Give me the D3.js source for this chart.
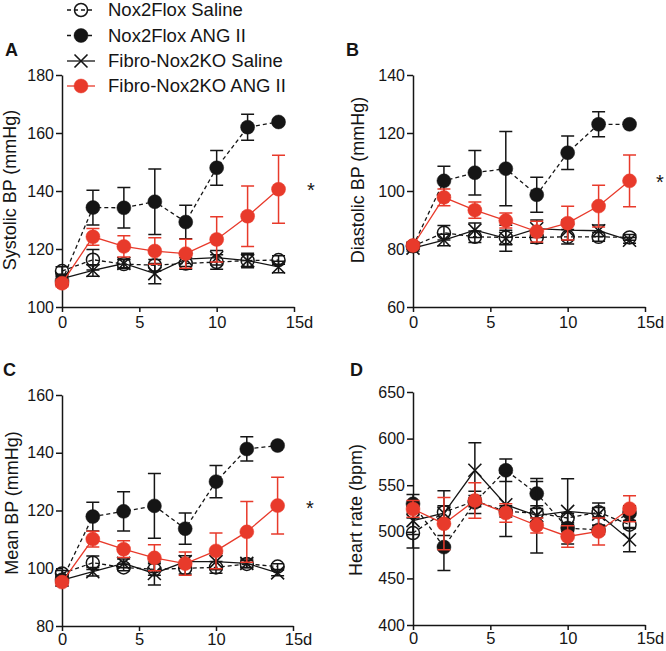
<!DOCTYPE html>
<html><head><meta charset="utf-8">
<script src="https://cdn.jsdelivr.net/npm/d3@7"></script>
<style>
body{margin:0;background:#fff}
svg{display:block}
text{font-family:"Liberation Sans",Arial,Helvetica,sans-serif;fill:#151515}
</style>
</head><body>
<svg id="c" width="666" height="651"></svg>
<script>
// ---------- DATA ----------
const days = [0, 2, 4, 6, 8, 10, 12, 14];
const groups = ["Nox2Flox Saline", "Nox2Flox ANG II", "Fibro-Nox2KO Saline", "Fibro-Nox2KO ANG II"];
const xTicks = [0, 5, 10, 15];

// A: Systolic BP
const sbpFloxSaline    = [112.4, 116.3, 114.8, 114.4, 115.0, 115.5, 116.0, 116.2];
const sbpFloxSalineErr = [1.5, 3.5, 1.5, 2.0, 2.0, 2.5, 2.0, 1.5];
const sbpFloxAng       = [109.0, 134.3, 134.2, 136.3, 129.3, 148.0, 162.0, 163.8];
const sbpFloxAngErr    = [1.5, 6.0, 7.0, 11.3, 5.8, 6.0, 4.5, 0.8];
const sbpKoSaline      = [109.8, 112.6, 115.0, 111.5, 116.5, 117.0, 116.0, 113.8];
const sbpKoSalineErr   = [1.5, 2.0, 1.5, 3.5, 2.5, 2.5, 2.5, 2.0];
const sbpKoAng         = [108.2, 124.2, 120.9, 119.3, 118.4, 123.3, 131.3, 140.6];
const sbpKoAngErr      = [1.2, 2.9, 3.7, 4.6, 5.0, 7.8, 10.4, 11.7];
const sbpTicks = [100, 120, 140, 160, 180];

// B: Diastolic BP
const dbpFloxSaline    = [81.0, 85.6, 84.2, 84.0, 84.0, 84.2, 84.2, 84.0];
const dbpFloxSalineErr = [1.0, 2.5, 2.0, 2.5, 2.0, 2.5, 1.5, 1.0];
const dbpFloxAng       = [81.0, 103.5, 106.3, 107.7, 98.7, 113.2, 123.0, 123.0];
const dbpFloxAngErr    = [1.0, 5.0, 7.7, 12.8, 6.0, 5.8, 4.3, 0.5];
const dbpKoSaline      = [80.3, 83.1, 86.5, 83.7, 87.0, 86.5, 86.3, 83.0];
const dbpKoSalineErr   = [1.0, 2.0, 2.5, 4.5, 3.0, 3.5, 2.0, 1.0];
const dbpKoAng         = [81.2, 97.8, 93.4, 89.8, 86.0, 88.9, 94.8, 103.5];
const dbpKoAngErr      = [1.0, 2.9, 2.8, 2.6, 3.6, 5.8, 7.2, 8.9];
const dbpTicks = [60, 80, 100, 120, 140];

// C: Mean BP
const mbpFloxSaline    = [98.2, 101.9, 100.3, 99.6, 100.0, 100.3, 101.5, 100.6];
const mbpFloxSalineErr = [1.0, 2.3, 1.2, 2.0, 2.0, 2.0, 1.2, 1.0];
const mbpFloxAng       = [96.0, 117.9, 119.7, 121.6, 113.7, 130.0, 141.3, 142.5];
const mbpFloxAngErr    = [1.0, 5.0, 6.8, 11.2, 5.4, 5.6, 4.2, 0.6];
const mbpKoSaline      = [95.9, 98.8, 101.7, 98.2, 102.3, 102.3, 101.7, 98.4];
const mbpKoSalineErr   = [1.0, 1.5, 1.5, 4.0, 2.0, 2.8, 1.5, 1.0];
const mbpKoAng         = [95.2, 110.1, 106.6, 103.6, 101.6, 106.0, 112.6, 121.7];
const mbpKoAngErr      = [1.0, 2.7, 2.9, 4.5, 4.0, 6.2, 10.5, 9.8];
const mbpTicks = [80, 100, 120, 140, 160];

// D: Heart rate
const hrFloxSaline     = [498.7, 521.0, 533.0, 522.0, 520.0, 514.8, 521.0, 507.6];
const hrFloxSalineErr  = [16, 7, 6, 6, 5, 5, 5, 4];
const hrFloxAng        = [530.0, 483.6, 531.6, 566.0, 541.0, 504.0, 502.0, 520.0];
const hrFloxAngErr     = [10, 25, 12, 12, 13, 4, 5, 8];
const hrKoSaline       = [512.0, 520.0, 566.0, 529.0, 517.3, 521.9, 519.0, 491.5];
const hrKoSalineErr    = [15, 24, 29.5, 34, 40, 35, 12, 13];
const hrKoAng          = [524.5, 508.7, 533.5, 520.2, 506.8, 495.0, 500.4, 524.8];
const hrKoAngErr       = [9, 28, 19, 10, 8, 11.5, 14.5, 14];
const hrTicks = [400, 450, 500, 550, 600, 650];

// ---------- STYLE ----------
const RED = "#e83a2b";
const BLK = "#151515";
const styles = [
  {marker: "open",   color: BLK, dash: "4,3"},
  {marker: "filled", color: BLK, dash: "4,3"},
  {marker: "cross",  color: BLK, dash: null},
  {marker: "filled", color: RED, dash: null}
];

const panels = [
  {letter: "A", lx: 5, ly: 56, title: "Systolic BP (mmHg)", tx: 16, ty: 190,
   dom: [100, 180], ticks: sbpTicks, xr: [62, 294], yr: [307, 75], star: [311, 197], pad: 4,
   means: [sbpFloxSaline, sbpFloxAng, sbpKoSaline, sbpKoAng],
   errs: [sbpFloxSalineErr, sbpFloxAngErr, sbpKoSalineErr, sbpKoAngErr]},
  {letter: "B", lx: 346, ly: 56, title: "Diastolic BP (mmHg)", tx: 364, ty: 180,
   dom: [60, 140], ticks: dbpTicks, xr: [413, 645], yr: [307, 75], star: [660, 189], pad: 4,
   means: [dbpFloxSaline, dbpFloxAng, dbpKoSaline, dbpKoAng],
   errs: [dbpFloxSalineErr, dbpFloxAngErr, dbpKoSalineErr, dbpKoAngErr]},
  {letter: "C", lx: 3, ly: 376, title: "Mean BP (mmHg)", tx: 18, ty: 503,
   dom: [80, 160], ticks: mbpTicks, xr: [62, 293], yr: [626, 395], star: [310, 515], pad: 2,
   means: [mbpFloxSaline, mbpFloxAng, mbpKoSaline, mbpKoAng],
   errs: [mbpFloxSalineErr, mbpFloxAngErr, mbpKoSalineErr, mbpKoAngErr]},
  {letter: "D", lx: 350, ly: 376, title: "Heart rate (bpm)", tx: 362, ty: 510,
   dom: [400, 650], ticks: hrTicks, xr: [413, 645], yr: [625, 392], star: null, pad: 2,
   means: [hrFloxSaline, hrFloxAng, hrKoSaline, hrKoAng],
   errs: [hrFloxSalineErr, hrFloxAngErr, hrKoSalineErr, hrKoAngErr]}
];

const svg = d3.select("#c");
const R = 7, CAP = 6.5, XS = 6.5;

function drawMarker(g, st, cx, cy) {
  if (st.marker === "cross") {
    g.append("path")
      .attr("d", `M${cx - XS},${cy - XS}L${cx + XS},${cy + XS}M${cx - XS},${cy + XS}L${cx + XS},${cy - XS}`)
      .attr("stroke", st.color).attr("stroke-width", 1.6).attr("fill", "none");
  } else {
    g.append("circle").attr("cx", cx).attr("cy", cy).attr("r", st.marker === "open" ? R - 0.5 : R)
      .attr("fill", st.marker === "open" ? "none" : st.color)
      .attr("stroke", st.color).attr("stroke-width", st.marker === "open" ? 1.5 : 0.5);
  }
}

panels.forEach(p => {
  const x = d3.scaleLinear().domain([0, 15]).range(p.xr);
  const y = d3.scaleLinear().domain(p.dom).range(p.yr);
  const g = svg.append("g");

  // axes
  const ay = g.append("g").attr("transform", `translate(${p.xr[0]},0)`)
    .call(d3.axisLeft(y).tickValues(p.ticks).tickSize(6).tickSizeOuter(0).tickPadding(2));
  const ax = g.append("g").attr("transform", `translate(0,${p.yr[0]})`)
    .call(d3.axisBottom(x).tickValues(xTicks).tickSize(5).tickSizeOuter(0).tickPadding(p.pad)
      .tickFormat(d => d === 15 ? "15d" : d));
  [ay, ax].forEach(a => {
    a.selectAll("path,line").attr("stroke", BLK).attr("stroke-width", 1.5);
    a.selectAll("text").attr("fill", BLK).style("font-family", '"Liberation Sans",Arial,sans-serif');
  });
  ay.selectAll("text").style("font-size", "16px");
  ax.selectAll("text").style("font-size", "16.5px").attr("dx", d => d === 15 ? "5" : "0");

  // title
  g.append("text").attr("transform", `translate(${p.tx},${p.ty}) rotate(-90)`)
    .attr("text-anchor", "middle").style("font-size", "18px").text(p.title);
  // letter
  g.append("text").attr("x", p.lx).attr("y", p.ly).style("font-size", "18px")
    .style("font-weight", "bold").text(p.letter);
  if (p.star) {
    g.append("text").attr("x", p.star[0]).attr("y", p.star[1]).attr("text-anchor", "middle")
      .style("font-size", "20px").text("*");
  }

  // series
  p.means.forEach((m, si) => {
    const st = styles[si];
    const e = p.errs[si];
    const sg = g.append("g");
    const line = d3.line().x((d, i) => x(days[i])).y(d => y(d));
    sg.append("path").datum(m).attr("d", line).attr("fill", "none")
      .attr("stroke", st.color).attr("stroke-width", 1.3)
      .attr("stroke-dasharray", st.dash);
    m.forEach((v, i) => {
      const cx = x(days[i]);
      const top = y(v + e[i]), bot = y(v - e[i]);
      sg.append("path")
        .attr("d", `M${cx},${top}L${cx},${bot}M${cx - CAP},${top}L${cx + CAP},${top}M${cx - CAP},${bot}L${cx + CAP},${bot}`)
        .attr("stroke", st.color).attr("stroke-width", 1.5).attr("fill", "none");
    });
    m.forEach((v, i) => drawMarker(sg, st, x(days[i]), y(v)));
  });
});

// legend
const legRows = [10, 35.5, 61, 86];
groups.forEach((name, i) => {
  const st = styles[i];
  const g = svg.append("g");
  const yy = legRows[i];
  g.append("line").attr("x1", 67).attr("x2", 95).attr("y1", yy).attr("y2", yy)
    .attr("stroke", st.color).attr("stroke-width", 1.3).attr("stroke-dasharray", st.dash);
  drawMarker(g, st, 81, yy);
  g.append("text").attr("x", 108).attr("y", yy).attr("dy", "0.35em")
    .style("font-size", "18.5px").text(name);
});
</script>
</body></html>
